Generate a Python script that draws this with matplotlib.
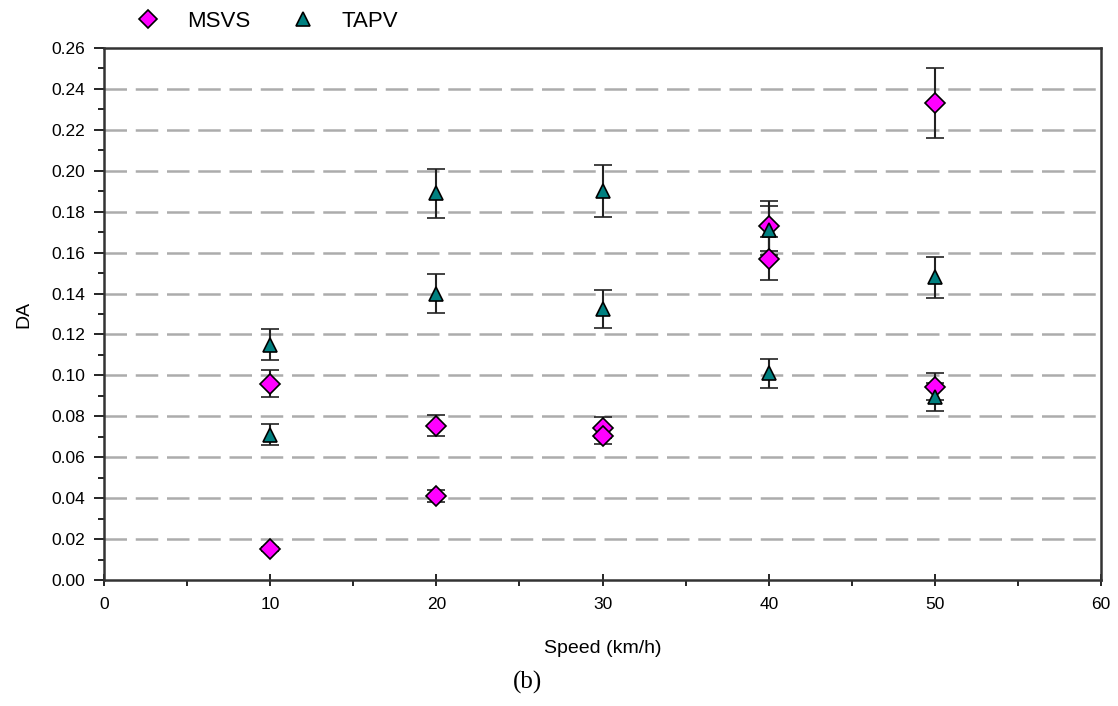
import numpy as np
import matplotlib.pyplot as plt
from matplotlib.ticker import MultipleLocator
from matplotlib.lines import Line2D

# data
msvs_speed = [10, 10, 20, 20, 30, 30, 40, 40, 50, 50]
msvs_da = [0.096, 0.015, 0.0755, 0.041, 0.0745, 0.0705, 0.173, 0.157, 0.233, 0.0945]
msvs_err = [0.0065, 0.001, 0.005, 0.003, 0.005, 0.004, 0.012, 0.0105, 0.017, 0.0065]

tapv_speed = [10, 10, 20, 20, 30, 30, 40, 40, 50, 50]
tapv_da = [0.115, 0.071, 0.189, 0.140, 0.190, 0.1325, 0.171, 0.101, 0.148, 0.0895]
tapv_err = [0.0075, 0.005, 0.012, 0.0095, 0.0128, 0.0093, 0.012, 0.0072, 0.010, 0.0068]

plt.rcParams['font.family'] = ['Liberation Sans', 'DejaVu Sans']

fig = plt.figure(figsize=(11.18, 7.06), dpi=100)
ax = fig.add_axes([0.093, 0.1785, 0.892, 0.7535])

ax.errorbar(msvs_speed, msvs_da, yerr=msvs_err, fmt='D', color='black',
            mfc='#ff00ff', mec='black', mew=1.2, ms=10, ecolor='#222222',
            elinewidth=1.5, capsize=6.5, capthick=1.5, zorder=3)
ax.errorbar(tapv_speed, tapv_da, yerr=tapv_err, fmt='^', color='black',
            mfc='#008080', mec='black', mew=1.2, ms=10, ecolor='#222222',
            elinewidth=1.5, capsize=6.5, capthick=1.5, zorder=3)

ax.set_xlim(0, 60)
ax.set_ylim(0, 0.26)
ax.xaxis.set_major_locator(MultipleLocator(10))
ax.xaxis.set_minor_locator(MultipleLocator(5))
ax.yaxis.set_major_locator(MultipleLocator(0.02))
ax.yaxis.set_minor_locator(MultipleLocator(0.01))
ax.yaxis.set_major_formatter(plt.FuncFormatter(lambda v, p: f'{v:.2f}'))

ax.tick_params(axis='x', which='major', direction='inout', length=9, width=1.2, labelsize=12.5, pad=8)
ax.tick_params(axis='x', which='minor', direction='out', length=4, width=1.2)
ax.tick_params(axis='y', which='major', direction='out', length=7.5, width=1.2, labelsize=12.5, pad=6)
ax.tick_params(axis='y', which='minor', direction='out', length=4, width=1.2)

for y in np.arange(0.02, 0.25, 0.02):
    ax.axhline(y, color='#acacac', lw=1.8, dashes=(9, 3.5), zorder=1)

for s in ax.spines.values():
    s.set_linewidth(1.8)
    s.set_color('#333333')

ax.set_xlabel('Speed (km/h)', fontsize=14, labelpad=20)
ax.set_ylabel('DA', fontsize=14, labelpad=14)

handles = [
    Line2D([], [], ls='none', marker='D', ms=9, mfc='#ff00ff', mec='black', mew=1.2, label='MSVS'),
    Line2D([], [], ls='none', marker='^', ms=10, mfc='#008080', mec='black', mew=1.2, label='TAPV'),
]
ax.legend(handles=handles, loc='lower left', bbox_to_anchor=(0.011, 1.01), ncol=2, frameon=False,
          fontsize=16, handletextpad=0.75, columnspacing=1.35, borderaxespad=0.1)

fig.text(0.472, 0.033, '(b)', ha='center', va='center', fontsize=18, family='Liberation Serif')

fig.savefig('out.png', dpi=100)
